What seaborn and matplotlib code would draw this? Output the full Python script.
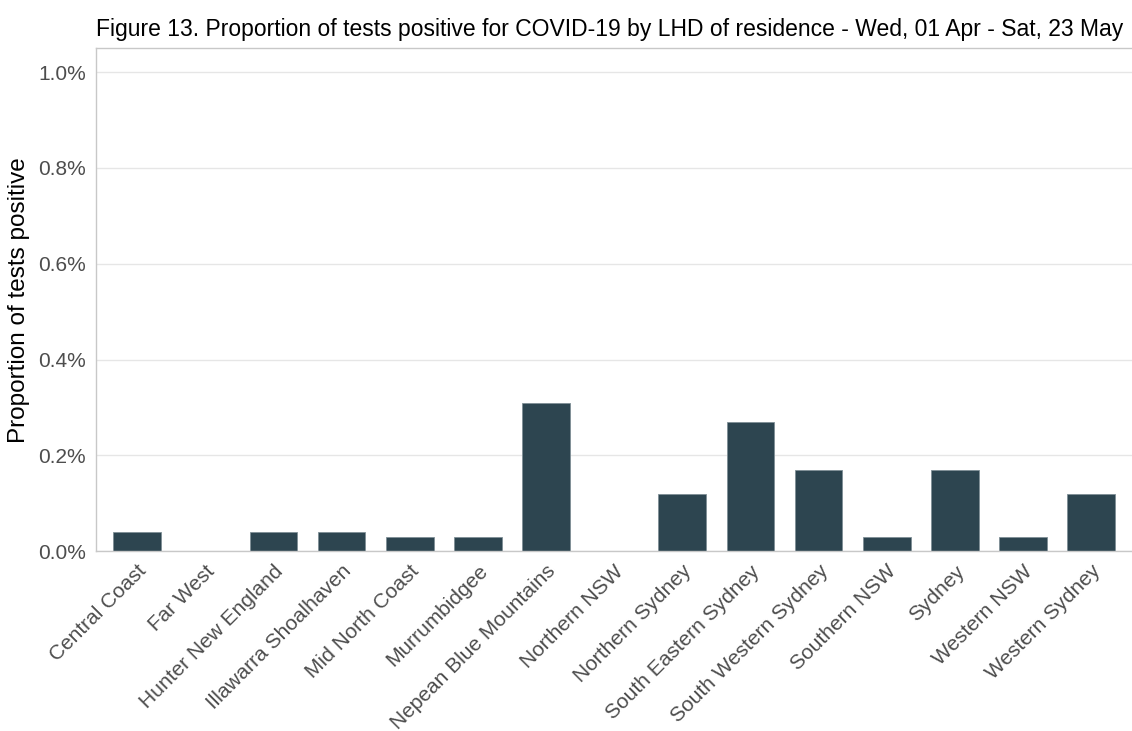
import matplotlib
matplotlib.use("Agg")
import matplotlib.pyplot as plt
import pandas as pd
import seaborn as sns
from matplotlib.ticker import FuncFormatter

# LHD of residence and proportion of tests positive (%)
lhd = ["Central Coast", "Far West", "Hunter New England", "Illawarra Shoalhaven",
       "Mid North Coast", "Murrumbidgee", "Nepean Blue Mountains", "Northern NSW",
       "Northern Sydney", "South Eastern Sydney", "South Western Sydney",
       "Southern NSW", "Sydney", "Western NSW", "Western Sydney"]
pct_positive = [0.04, 0.0, 0.04, 0.04, 0.03, 0.03, 0.31, 0.0,
                0.12, 0.27, 0.17, 0.03, 0.17, 0.03, 0.12]
y_ticks = [0.0, 0.2, 0.4, 0.6, 0.8, 1.0]

df = pd.DataFrame({"lhd": lhd, "pct": pct_positive})

sns.set_style("white")
plt.rcParams["font.family"] = ["Liberation Sans", "DejaVu Sans"]

fig, ax = plt.subplots(figsize=(11.32, 7.31), dpi=100)
fig.subplots_adjust(left=0.085, right=1.0, top=0.934, bottom=0.246)

sns.barplot(data=df, x="lhd", y="pct", color="#2D4550", saturation=1,
            width=0.7, edgecolor="#7f8f96", linewidth=0.6, ax=ax)

ax.set_ylim(0, 1.05)
ax.set_xlim(-0.6, 14.6)
ax.set_yticks(y_ticks)
ax.yaxis.set_major_formatter(FuncFormatter(lambda v, p: f"{v:.1f}%"))
ax.grid(axis="y", color="#e6e6e6", linewidth=1)
ax.set_axisbelow(True)

for side in ["left", "bottom", "top"]:
    ax.spines[side].set_color("#c8c8c8")
    ax.spines[side].set_linewidth(1)
ax.spines["right"].set_visible(False)

ax.tick_params(axis="both", colors="#c8c8c8", labelcolor="#4d4d4d",
               labelsize=15, length=4, width=1)
plt.setp(ax.get_xticklabels(), rotation=45, ha="right", rotation_mode="anchor")

ax.set_xlabel("")
ax.set_ylabel("Proportion of tests positive", fontsize=17.5, color="black", labelpad=6)
ax.set_title("Figure 13. Proportion of tests positive for COVID-19 by LHD of residence"
             " - Wed, 01 Apr - Sat, 23 May", fontsize=16.5, loc="left", pad=9,
             color="black")

fig.savefig("out.png", dpi=100)
